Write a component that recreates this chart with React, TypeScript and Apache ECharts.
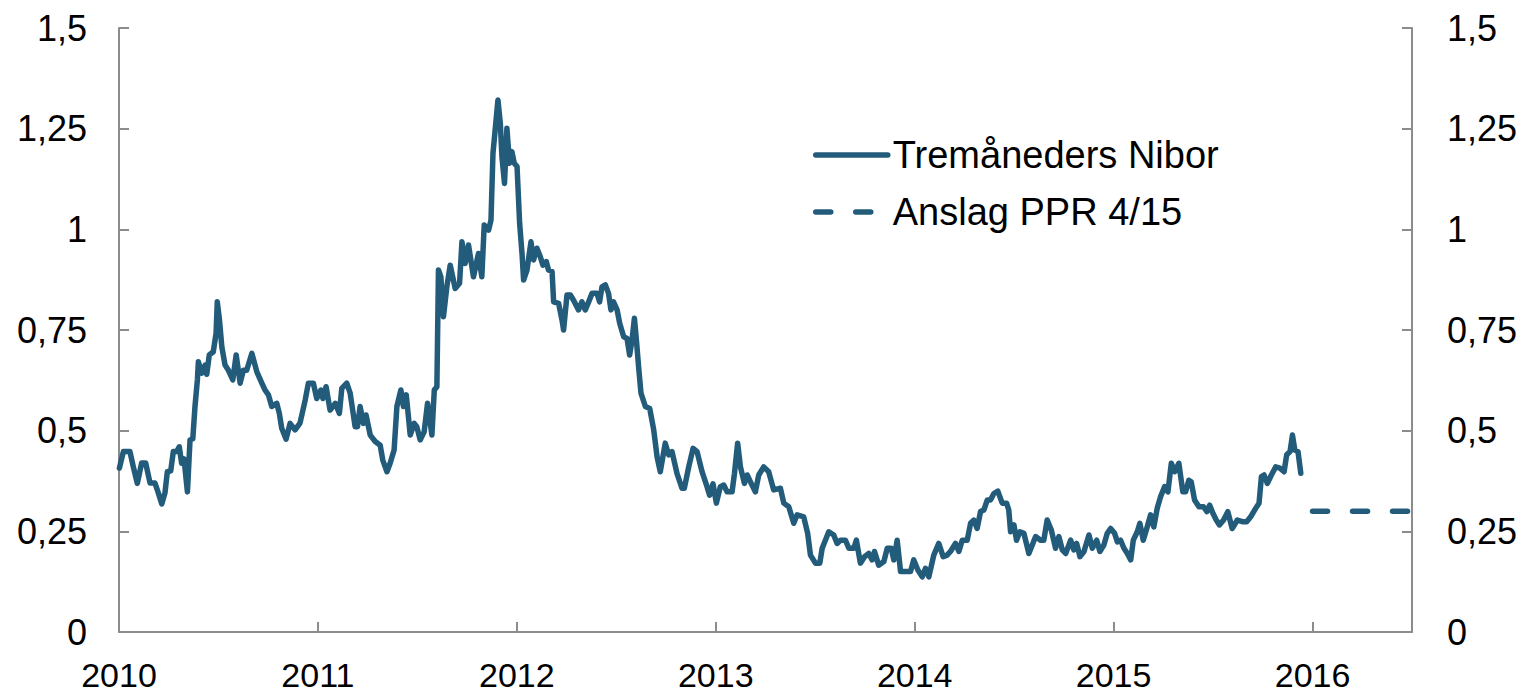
import React, { useEffect, useRef } from "react";
import * as echarts from "echarts";

// Decimal-year time stamps and values (percent) for three-month Nibor
const niborT = [
  2010.002, 2010.022, 2010.055, 2010.072, 2010.092, 2010.114, 2010.134, 2010.156, 2010.181, 2010.198,
  2010.215, 2010.231, 2010.243, 2010.26, 2010.273, 2010.29, 2010.303, 2010.315, 2010.327, 2010.344,
  2010.357, 2010.371, 2010.382, 2010.394, 2010.399, 2010.416, 2010.433, 2010.441, 2010.454, 2010.474,
  2010.488, 2010.494, 2010.505, 2010.517, 2010.533, 2010.55, 2010.572, 2010.589, 2010.609, 2010.625,
  2010.642, 2010.668, 2010.693, 2010.718, 2010.734, 2010.751, 2010.768, 2010.793, 2010.806, 2010.818,
  2010.84, 2010.86, 2010.885, 2010.91, 2010.936, 2010.952, 2010.977, 2010.994, 2011.015, 2011.025,
  2011.041, 2011.061, 2011.087, 2011.108, 2011.12, 2011.145, 2011.162, 2011.187, 2011.199, 2011.212,
  2011.229, 2011.242, 2011.263, 2011.288, 2011.313, 2011.326, 2011.347, 2011.363, 2011.383, 2011.397,
  2011.417, 2011.43, 2011.444, 2011.464, 2011.484, 2011.497, 2011.514, 2011.534, 2011.551, 2011.573,
  2011.585, 2011.598, 2011.606, 2011.618, 2011.631, 2011.648, 2011.665, 2011.69, 2011.712, 2011.724,
  2011.74, 2011.757, 2011.782, 2011.807, 2011.824, 2011.836, 2011.858, 2011.87, 2011.88, 2011.891,
  2011.905, 2011.917, 2011.925, 2011.938, 2011.95, 2011.963, 2011.975, 2011.987, 2012.001, 2012.014,
  2012.026, 2012.034, 2012.051, 2012.071, 2012.084, 2012.101, 2012.118, 2012.131, 2012.148, 2012.159,
  2012.177, 2012.185, 2012.21, 2012.227, 2012.235, 2012.252, 2012.269, 2012.285, 2012.31, 2012.327,
  2012.344, 2012.361, 2012.378, 2012.403, 2012.416, 2012.428, 2012.445, 2012.461, 2012.473, 2012.486,
  2012.504, 2012.517, 2012.537, 2012.554, 2012.567, 2012.579, 2012.591, 2012.601, 2012.612, 2012.624,
  2012.646, 2012.668, 2012.688, 2012.705, 2012.721, 2012.746, 2012.763, 2012.78, 2012.805, 2012.83,
  2012.842, 2012.864, 2012.886, 2012.906, 2012.931, 2012.956, 2012.969, 2012.986, 2013.003, 2013.023,
  2013.04, 2013.057, 2013.082, 2013.094, 2013.11, 2013.124, 2013.144, 2013.158, 2013.178, 2013.199,
  2013.216, 2013.241, 2013.266, 2013.291, 2013.325, 2013.342, 2013.367, 2013.392, 2013.409, 2013.442,
  2013.462, 2013.476, 2013.501, 2013.523, 2013.535, 2013.551, 2013.568, 2013.593, 2013.61, 2013.627,
  2013.652, 2013.669, 2013.694, 2013.707, 2013.727, 2013.748, 2013.769, 2013.786, 2013.798, 2013.819,
  2013.845, 2013.862, 2013.882, 2013.895, 2013.912, 2013.929, 2013.954, 2013.979, 2013.995, 2014.016,
  2014.038, 2014.054, 2014.071, 2014.096, 2014.121, 2014.143, 2014.163, 2014.18, 2014.205, 2014.222,
  2014.239, 2014.264, 2014.281, 2014.297, 2014.314, 2014.331, 2014.348, 2014.365, 2014.381, 2014.398,
  2014.418, 2014.44, 2014.462, 2014.473, 2014.482, 2014.499, 2014.512, 2014.529, 2014.549, 2014.574,
  2014.591, 2014.608, 2014.633, 2014.649, 2014.666, 2014.687, 2014.708, 2014.725, 2014.742, 2014.759,
  2014.784, 2014.8, 2014.814, 2014.831, 2014.851, 2014.876, 2014.893, 2014.915, 2014.931, 2014.951,
  2014.968, 2014.985, 2015.005, 2015.019, 2015.035, 2015.052, 2015.069, 2015.086, 2015.099, 2015.119,
  2015.132, 2015.149, 2015.169, 2015.186, 2015.202, 2015.219, 2015.236, 2015.256, 2015.273, 2015.29,
  2015.307, 2015.328, 2015.348, 2015.362, 2015.378, 2015.39, 2015.407, 2015.429, 2015.452, 2015.469,
  2015.483, 2015.499, 2015.516, 2015.532, 2015.553, 2015.574, 2015.596, 2015.622, 2015.647, 2015.669,
  2015.689, 2015.714, 2015.731, 2015.743, 2015.756, 2015.773, 2015.793, 2015.815, 2015.836, 2015.857,
  2015.87, 2015.887, 2015.899, 2015.911, 2015.927, 2015.941,
];

const niborV = [
  0.407, 0.448, 0.448, 0.41, 0.369, 0.42, 0.42, 0.37, 0.37, 0.345,
  0.318, 0.345, 0.398, 0.4, 0.448, 0.448, 0.46, 0.419, 0.43, 0.348,
  0.477, 0.48, 0.56, 0.626, 0.671, 0.643, 0.663, 0.64, 0.688, 0.696,
  0.742, 0.82, 0.775, 0.708, 0.663, 0.65, 0.626, 0.688, 0.618, 0.65,
  0.65, 0.692, 0.646, 0.618, 0.601, 0.589, 0.56, 0.568, 0.543, 0.506,
  0.479, 0.518, 0.502, 0.519, 0.576, 0.618, 0.618, 0.58, 0.601, 0.58,
  0.609, 0.551, 0.568, 0.543, 0.605, 0.618, 0.593, 0.51, 0.51, 0.56,
  0.518, 0.539, 0.489, 0.473, 0.464, 0.427, 0.398, 0.419, 0.452, 0.56,
  0.601, 0.56, 0.589, 0.489, 0.518, 0.51, 0.477, 0.497, 0.568, 0.489,
  0.601, 0.609, 0.899, 0.882, 0.783, 0.857, 0.911, 0.853, 0.866, 0.969,
  0.915, 0.961, 0.882, 0.94, 0.882, 1.011, 0.998, 1.023, 1.189, 1.247,
  1.321, 1.263, 1.18, 1.114, 1.251, 1.164, 1.193, 1.164, 1.156, 1.015,
  0.94, 0.874, 0.899, 0.969, 0.924, 0.953, 0.932, 0.911, 0.92, 0.899,
  0.895, 0.82, 0.816, 0.775, 0.75, 0.837, 0.837, 0.824, 0.8, 0.82,
  0.8, 0.82, 0.841, 0.841, 0.82, 0.857, 0.862, 0.841, 0.8, 0.82,
  0.8, 0.767, 0.733, 0.729, 0.688, 0.725, 0.779, 0.725, 0.659, 0.593,
  0.56, 0.555, 0.502, 0.435, 0.398, 0.469, 0.44, 0.448, 0.394, 0.357,
  0.357, 0.41, 0.456, 0.448, 0.398, 0.361, 0.34, 0.368, 0.32, 0.361,
  0.365, 0.348, 0.348, 0.394, 0.469, 0.41, 0.369, 0.39, 0.369, 0.348,
  0.39, 0.41, 0.398, 0.353, 0.357, 0.32, 0.311, 0.27, 0.291, 0.286,
  0.245, 0.191, 0.171, 0.171, 0.208, 0.228, 0.249, 0.241, 0.22, 0.228,
  0.228, 0.208, 0.208, 0.228, 0.171, 0.187, 0.195, 0.179, 0.2, 0.166,
  0.175, 0.208, 0.208, 0.179, 0.228, 0.15, 0.15, 0.15, 0.179, 0.154,
  0.137, 0.158, 0.137, 0.191, 0.22, 0.187, 0.191, 0.2, 0.22, 0.2,
  0.228, 0.228, 0.27, 0.278, 0.257, 0.299, 0.303, 0.328, 0.328, 0.344,
  0.35, 0.32, 0.32, 0.303, 0.249, 0.266, 0.228, 0.249, 0.245, 0.195,
  0.216, 0.237, 0.228, 0.228, 0.278, 0.253, 0.208, 0.237, 0.204, 0.195,
  0.228, 0.204, 0.22, 0.187, 0.2, 0.241, 0.208, 0.228, 0.2, 0.216,
  0.245, 0.257, 0.245, 0.224, 0.228, 0.208, 0.195, 0.179, 0.228, 0.249,
  0.27, 0.228, 0.261, 0.291, 0.261, 0.307, 0.336, 0.361, 0.348, 0.419,
  0.398, 0.419, 0.348, 0.348, 0.377, 0.373, 0.328, 0.311, 0.311, 0.299,
  0.315, 0.295, 0.278, 0.266, 0.278, 0.299, 0.257, 0.278, 0.274, 0.274,
  0.286, 0.307, 0.32, 0.386, 0.39, 0.369, 0.39, 0.41, 0.407, 0.398,
  0.44, 0.448, 0.489, 0.452, 0.448, 0.394,
];

// Forecast (PPR 4/15)
const forecastT = [2016.0, 2016.25, 2016.5];
const forecastV = [0.3, 0.3, 0.3];

const yTicks = [0, 0.25, 0.5, 0.75, 1, 1.25, 1.5];
const xYears = [2010, 2011, 2012, 2013, 2014, 2015, 2016];

const seriesNames = ["Tremåneders Nibor", "Anslag PPR 4/15"];

const LINE_COLOR = "#235b7b";
const AXIS_COLOR = "#8c8c8c";
const FONT = "'Liberation Sans', Arial, sans-serif";

const fmtY = (v: number) => (yTicks.includes(v) ? String(v).replace(".", ",") : "");
const fmtX = (v: number) => (xYears.includes(v) ? String(v) : "");

export default function App() {
  const ref = useRef<HTMLDivElement>(null);

  useEffect(() => {
    if (!ref.current) return;
    const chart = echarts.init(ref.current, undefined, { renderer: "svg" });

    const yAxisCommon = {
      type: "value" as const,
      min: 0,
      max: 1.5,
      interval: 0.25,
      splitLine: { show: false },
      axisLine: { show: true, lineStyle: { color: AXIS_COLOR, width: 2 } },
      axisTick: { show: true, inside: true, length: 10, lineStyle: { color: AXIS_COLOR, width: 2 } },
      axisLabel: {
        formatter: fmtY,
        color: "#000",
        fontSize: 36,
        fontFamily: FONT,
      },
    };

    chart.setOption({
      animation: false,
      backgroundColor: "#fff",
      grid: { left: 119, right: 111, top: 28, bottom: 62, containLabel: false },
      legend: {
        orient: "vertical",
        left: 813,
        top: 136,
        padding: 0,
        itemWidth: 72,
        itemHeight: 14,
        itemGap: 19,
        textStyle: { fontSize: 38, fontFamily: FONT, color: "#000" },
        itemStyle: { opacity: 0 },
        lineStyle: { width: 5.5, cap: "round" },
        data: seriesNames,
      },
      xAxis: {
        type: "value",
        min: 2010,
        max: 2016.5,
        interval: 1,
        splitLine: { show: false },
        axisLine: { show: true, lineStyle: { color: AXIS_COLOR, width: 2 } },
        axisTick: { show: true, inside: true, length: 10, lineStyle: { color: AXIS_COLOR, width: 2 } },
        axisLabel: {
          formatter: fmtX,
          color: "#000",
          fontSize: 34,
          lineHeight: 26,
          fontFamily: FONT,
          margin: 30,
          showMaxLabel: false,
        },
      },
      yAxis: [
        { ...yAxisCommon, position: "left", axisLabel: { ...yAxisCommon.axisLabel, margin: 32 } },
        { ...yAxisCommon, position: "right", axisLabel: { ...yAxisCommon.axisLabel, margin: 35 } },
      ],
      series: [
        {
          name: seriesNames[0],
          type: "line",
          yAxisIndex: 0,
          symbol: "none",
          data: niborT.map((t, i) => [t, niborV[i]]),
          lineStyle: { color: LINE_COLOR, width: 5.5, cap: "round", join: "round" },
          itemStyle: { color: LINE_COLOR },
        },
        {
          name: seriesNames[1],
          type: "line",
          yAxisIndex: 0,
          symbol: "none",
          data: forecastT.map((t, i) => [t, forecastV[i]]),
          lineStyle: { color: LINE_COLOR, width: 5.5, type: [15, 25], cap: "round" },
          itemStyle: { color: LINE_COLOR },
        },
      ],
    });

    return () => chart.dispose();
  }, []);

  return (
    <div
      ref={ref}
      style={{ position: "fixed", left: 0, top: 0, width: 1523, height: 694, background: "#fff" }}
    />
  );
}
